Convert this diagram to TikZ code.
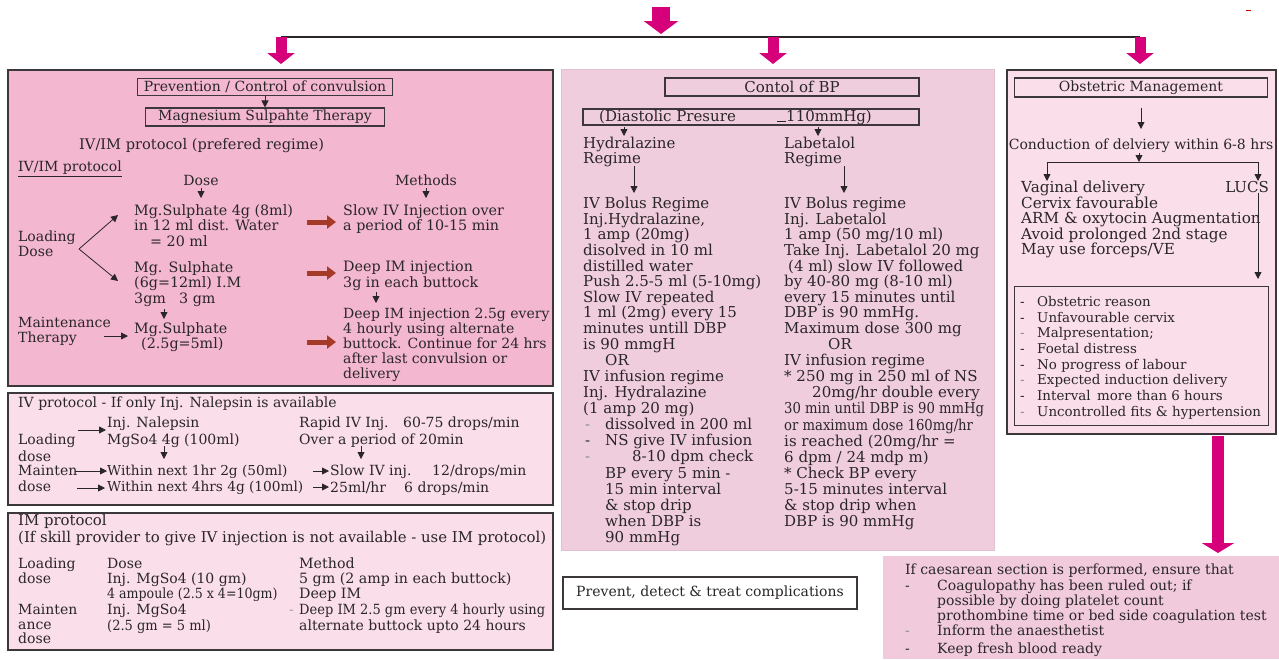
\documentclass[tikz,border=0pt]{standalone}
\usepackage{fontspec}
\usepackage{graphicx}
\setmainfont{DejaVu Serif}
\usetikzlibrary{arrows.meta}
\definecolor{pinkA}{RGB}{244,183,208}
\definecolor{pinkB}{RGB}{250,222,234}
\definecolor{pinkC}{RGB}{240,205,221}
\definecolor{pinkD}{RGB}{241,203,220}
\definecolor{mag}{RGB}{214,0,122}
\definecolor{brn}{RGB}{165,58,40}
\definecolor{ink}{RGB}{42,38,40}
\definecolor{edge}{RGB}{60,55,58}
\newcommand\dsh[1]{\makebox[#1][l]{-}}
\newcommand\sq[2]{\scalebox{#1}[1]{#2}}
\begin{document}
\begin{tikzpicture}[x=1pt,y=-1pt,
  every node/.style={inner sep=0pt,text=ink},
  txt/.style={anchor=north west,align=left,font=\fontsize{14}{15.6}\selectfont},
  txl/.style={anchor=north west,align=left,font=\fontsize{14.3}{15.6}\selectfont},
  txm/.style={anchor=north west,align=left,font=\fontsize{15}{15.6}\selectfont},
  txb/.style={anchor=north west,align=left,font=\fontsize{14}{16.3}\selectfont},
  panel/.style={draw=edge,line width=1.5pt,anchor=north west},
  tag/.style={draw=edge,line width=1.1pt,font=\fontsize{14}{15}\selectfont},
  sarr/.style={draw=ink,line width=0.8pt,-{Triangle[length=7pt,width=7pt]}},
  bigarr/.style={draw=mag,line width=11pt,-{Triangle[length=11pt,width=27pt]}},
  brarr/.style={draw=brn,line width=5pt,-{Triangle[length=9pt,width=13pt]}},
]
\useasboundingbox[fill=white] (0,0) rectangle (1279,659);

% ---------- panels ----------
\node[panel,fill=pinkA,minimum width=545pt,minimum height=316pt] (b1) at (7,69) {};
\node[panel,fill=pinkB,minimum width=545pt,minimum height=112pt] (b2) at (7,392) {};
\node[panel,fill=pinkB,minimum width=545pt,minimum height=137pt] (b3) at (7,512) {};
\node[draw=pinkC!85!gray,line width=0.8pt,fill=pinkC,anchor=north west,minimum width=433pt,minimum height=481pt] (b4) at (561,69) {};
\node[panel,fill=pinkB,minimum width=269pt,minimum height=364pt] (b5) at (1006,69) {};
\node[draw=edge,line width=1.3pt,fill=pinkB,anchor=north west,minimum width=254pt,minimum height=139pt] (b6) at (1014,286) {};
\node[fill=pinkD,anchor=north west,minimum width=396pt,minimum height=103pt] (b7) at (883,556) {};
\node[draw=edge,line width=1.4pt,fill=white,minimum width=294pt,minimum height=32pt,font=\fontsize{14}{15}\selectfont] (pv) at (710,593) {Prevent, detect \& treat complications};

% ---------- top distribution ----------
\coordinate (src) at (661,7);
\coordinate (hub) at (661,34);
\coordinate (jl) at (281,37);
\coordinate (jm) at (773,37);
\coordinate (jr) at (1140,37);
\draw[mag,line width=18pt,-{Triangle[length=13pt,width=34pt]}] (src) -- (hub);
\draw[ink,line width=1.2pt] (jl) -- (jr);
\draw[bigarr,shorten >=5pt] (jl) -- (jl |- b1.north);
\draw[bigarr,shorten >=5pt] (jm) -- (jm |- b4.north);
\draw[bigarr,shorten >=5pt] (jr) -- (jr |- b5.north);
\draw[red!80!black,line width=1pt] (1246,10) -- (1251,10);

% ---------- magnesium sulphate panel ----------
\node[tag,minimum width=255pt,minimum height=17pt] (pc) at (265,87) {Prevention / Control of convulsion};
\node[tag,minimum width=239pt,minimum height=18pt] (ms) at (265,117) {Magnesium Sulpahte Therapy};
\draw[sarr] (pc.south) -- (ms.north);
\node[txt,font=\fontsize{14.6}{15}\selectfont] (pr) at (79,138) {IV/IM protocol (prefered regime)};
\node[txt] (ul) at (18,161) {\underline{IV/IM protocol}};
\node[txt,anchor=north] (dz) at (201,175) {Dose};
\node[txt,anchor=north] (mt) at (426,175) {Methods};
\node[txl] (m1) at (134,204) {Mg.Sulphate 4g (8ml)\\in 12 ml dist. Water\\\hspace*{16pt}= 20 ml};
\draw[sarr,shorten <=2pt,shorten >=6pt] (dz.south) -- (dz.south |- m1.north);
\node[txl] (s1) at (343,204) {Slow IV Injection over\\a period of 10-15 min};
\draw[sarr,shorten <=2pt,shorten >=6pt] (mt.south) -- (mt.south |- s1.north);
\node[txt,font=\fontsize{14}{15}\selectfont] (ld) at (18,231) {Loading\\Dose};
\coordinate (ldj) at (79,249);
\coordinate (ldu) at (118,215);
\coordinate (ldd) at (118,281);
\draw[sarr] (ldj) -- (ldu);
\draw[sarr] (ldj) -- (ldd);
\node[txl] (m2) at (134,261) {Mg. Sulphate\\(6g=12ml) I.M\\\makebox[45pt][l]{3gm}3 gm};
\node[txt,font=\fontsize{14}{15}\selectfont] (mn) at (18,317) {Maintenance\\Therapy};
\node[txl] (m3) at (134,322) {Mg.Sulphate\\\hspace*{7pt}(2.5g=5ml)};
\coordinate (m2a) at (164,309);
\draw[sarr,shorten >=3pt] (m2a) -- (m2a |- m3.north);
\coordinate (mna) at (104,336);
\draw[sarr,shorten >=6pt] (mna) -- (mna -| m3.west);
\node[txl] (s2) at (343,261) {Deep IM injection\\3g in each buttock};
\node[txt,font=\fontsize{14}{15.1}\selectfont] (s3) at (343,308) {Deep IM injection 2.5g every\\4 hourly using alternate\\buttock. Continue for 24 hrs\\after last convulsion or\\delivery};
\coordinate (s2a) at (376,292);
\draw[sarr,shorten >=5pt] (s2a) -- (s2a |- s3.north);
\coordinate (ba1) at (307,222);
\coordinate (ba2) at (307,273);
\coordinate (ba3) at (307,342);
\draw[brarr,shorten >=7pt] (ba1) -- (ba1 -| s1.west);
\draw[brarr,shorten >=7pt] (ba2) -- (ba2 -| s2.west);
\draw[brarr,shorten >=7pt] (ba3) -- (ba3 -| s3.west);

% ---------- IV protocol panel ----------
\node[txb] (h2) at (18,397) {IV protocol - If only Inj. Nalepsin is available};
\node[txb] (n1) at (107,417) {Inj. Nalepsin\\MgSo4 4g (100ml)};
\node[txb] (ld2) at (18,434) {Loading\\dose};
\coordinate (n1a) at (78,430);
\draw[sarr,shorten >=1pt] (n1a) -- (n1a -| n1.west);
\node[txb] (r1) at (299,417) {\makebox[104pt][l]{Rapid IV Inj.}60-75 drops/min\\Over a period of 20min};
\node[txb] (mt2) at (18,465) {Mainten\\dose};
\node[txb,font=\fontsize{13.7}{16.3}\selectfont] (w1) at (107,465) {Within next 1hr 2g (50ml)\\Within next 4hrs 4g (100ml)};
\coordinate (n1b) at (164,446);
\draw[sarr,shorten >=6pt] (n1b) -- (n1b |- w1.north);
\node[txb] (w3) at (330,465) {\makebox[102pt][l]{Slow IV inj.}12/drops/min\\\makebox[74pt][l]{25ml/hr}6 drops/min};
\coordinate (r1c) at (361,446);
\draw[sarr,shorten >=6pt] (r1c) -- (r1c |- w3.north);
\coordinate (mta) at (75,471);
\coordinate (mtb) at (77,488);
\draw[sarr] (mta) -- (mta -| w1.west);
\draw[sarr,shorten >=2pt] (mtb) -- (mtb -| w1.west);
\coordinate (wa) at (313,471);
\coordinate (wb) at (313,487);
\draw[sarr,shorten >=1pt] (wa) -- (wa -| w3.west);
\draw[sarr,shorten >=1pt] (wb) -- (wb -| w3.west);

% ---------- IM protocol panel ----------
\node[txt,font=\fontsize{14.9}{17}\selectfont] (h3) at (18,514) {IM protocol\\(If skill provider to give IV injection is not available - use IM protocol)};
\node[txt,font=\fontsize{14}{15}\selectfont] (ld3) at (18,558) {Loading\\dose};
\node[txt,font=\fontsize{14}{15}\selectfont] (d3) at (107,558) {Dose\\Inj. MgSo4 (10 gm)\\\sq{0.9}{4 ampoule (2.5 x 4=10gm)}};
\node[txt,font=\fontsize{14.2}{15}\selectfont] (me3) at (299,558) {Method\\5 gm (2 amp in each buttock)\\Deep IM};
\node[txt,font=\fontsize{14}{14.6}\selectfont] (mt3) at (18,604) {Mainten\\ance\\dose};
\node[txt,font=\fontsize{14}{15.5}\selectfont] (d4) at (107,604) {Inj. MgSo4\\\sq{0.93}{(2.5 gm = 5 ml)}};
\node[txt,font=\fontsize{14}{15.5}\selectfont] (me4) at (289,604) {{\color{ink!45}\dsh{10pt}}\sq{0.93}{Deep IM 2.5 gm every 4 hourly using}\\\hspace*{10pt}alternate buttock upto 24 hours};

% ---------- blood pressure panel ----------
\node[tag,font=\fontsize{15}{15}\selectfont,minimum width=254pt,minimum height=18pt] (cb) at (792,87) {Contol of BP};
\node[tag,minimum width=336pt,minimum height=16pt] (dp) at (751,117) {};
\node[txm,anchor=base west] (dp1) at (599,121.5) {(Diastolic Presure};
\node[txm,anchor=base west] (dp2) at (777,121.5) {\rule{9pt}{0.8pt}110mmHg)};
\node[txm,font=\fontsize{15}{14.5}\selectfont] (hy) at (583,137) {Hydralazine\\Regime};
\node[txm,font=\fontsize{15}{14.5}\selectfont] (lb) at (784,137) {Labetalol\\Regime};
\coordinate (ha) at (624,127);
\coordinate (la) at (818,127);
\draw[sarr,shorten >=1pt] (ha) -- (ha |- hy.north);
\draw[sarr,shorten >=1pt] (la) -- (la |- lb.north);
\node[txm] (hl) at (583,197) {IV Bolus Regime\\Inj.Hydralazine,\\1 amp (20mg)\\disolved in 10 ml\\distilled water\\Push 2.5-5 ml (5-10mg)\\Slow IV repeated\\1 ml (2mg) every 15\\minutes untill DBP\\is 90 mmgH};
\node[txm,font=\fontsize{15}{16.1}\selectfont] (hl2) at (583,354) {\hspace*{22pt}OR\\IV infusion regime\\Inj. Hydralazine\\(1 amp 20 mg)\\\hspace*{2pt}{\color{ink!55}\dsh{20pt}}dissolved in 200 ml\\\hspace*{2pt}\dsh{20pt}NS give IV infusion\\\hspace*{2pt}{\color{ink!55}\dsh{20pt}}\hspace*{27pt}8-10 dpm check\\\hspace*{22pt}BP every 5 min -\\\hspace*{22pt}15 min interval\\\hspace*{22pt}\& stop drip\\\hspace*{22pt}when DBP is\\\hspace*{22pt}90 mmHg};
\node[txm] (lr) at (784,197) {IV Bolus regime\\Inj. Labetalol\\1 amp (50 mg/10 ml)\\Take Inj. Labetalol 20 mg\\\hspace*{4pt}(4 ml) slow IV followed\\by 40-80 mg (8-10 ml)\\every 15 minutes until\\DBP is 90 mmHg.\\Maximum dose 300 mg\\\hspace*{44pt}OR};
\node[txm,font=\fontsize{15}{16.1}\selectfont] (lr2) at (784,354) {IV infusion regime\\* 250 mg in 250 ml of NS\\\hspace*{28pt}20mg/hr double every\\\sq{0.88}{30 min until DBP is 90 mmHg}\\\sq{0.88}{or maximum dose 160mg/hr}\\is reached (20mg/hr =\\6 dpm / 24 mdp m)\\* Check BP every\\5-15 minutes interval\\\& stop drip when\\DBP is 90 mmHg};
\coordinate (hb) at (634,166);
\coordinate (lc) at (844,166);
\draw[sarr,shorten >=4pt] (hb) -- (hb |- hl.north);
\draw[sarr,shorten >=4pt] (lc) -- (lc |- lr.north);

% ---------- obstetric management panel ----------
\node[tag,minimum width=253pt,minimum height=19pt] (om) at (1141,87.5) {Obstetric Management};
\node[txt,anchor=north] (cd) at (1141,139) {Conduction of delviery within 6-8 hrs};
\draw[sarr,shorten <=10pt,shorten >=10pt] (om.south) -- (cd.north);
\coordinate (cj) at (1139,162);
\draw[sarr] (cd.south -| cj) -- (cj);
\coordinate (bl5) at (1047,162);
\coordinate (br5) at (1258,162);
\draw[ink,line width=1pt] (bl5) -- (br5);
\node[txt,font=\fontsize{15.2}{15.5}\selectfont] (vd) at (1021,181) {Vaginal delivery\\Cervix favourable\\ARM \& oxytocin Augmentation\\Avoid prolonged 2nd stage\\May use forceps/VE};
\node[txt,anchor=north east,font=\fontsize{15}{15}\selectfont] (lu) at (1269,181) {LUCS};
\draw[sarr] (bl5) -- (bl5 |- vd.north);
\draw[sarr] (br5) -- (br5 |- lu.north);
\draw[sarr,shorten >=7pt] (lu.south -| br5) -- (br5 |- b6.north);
\node[txt,font=\fontsize{13.4}{15.7}\selectfont] (ol) at (1020,296) {\dsh{17pt}Obstetric reason\\\dsh{17pt}Unfavourable cervix\\{\color{ink!55}\dsh{17pt}}Malpresentation;\\\dsh{17pt}Foetal distress\\\dsh{17pt}No progress of labour\\{\color{ink!55}\dsh{17pt}}Expected induction delivery\\\dsh{17pt}Interval\, more than 6 hours\\{\color{ink!55}\dsh{17pt}}Uncontrolled fits \& hypertension};
\coordinate (cs) at (1218,436);
\draw[mag,line width=12pt,-{Triangle[length=10pt,width=32pt]},shorten >=3pt] (cs) -- (cs |- b7.north);

% ---------- caesarean section panel ----------
\node[txt] (c0) at (905,564) {If caesarean section is performed, ensure that};
\node[txt,font=\fontsize{14}{13.5}\selectfont] (c1) at (905,580) {\dsh{32pt}Coagulopathy has been ruled out; if\\\hspace*{32pt}possible by doing platelet count\\\hspace*{32pt}prothombine time or bed side coagulation test};
\node[txt,font=\fontsize{14}{18}\selectfont] (c2) at (905,625) {{\color{ink!55}\dsh{32pt}}Inform the anaesthetist\\\dsh{32pt}Keep fresh blood ready};
\end{tikzpicture}
\end{document}
